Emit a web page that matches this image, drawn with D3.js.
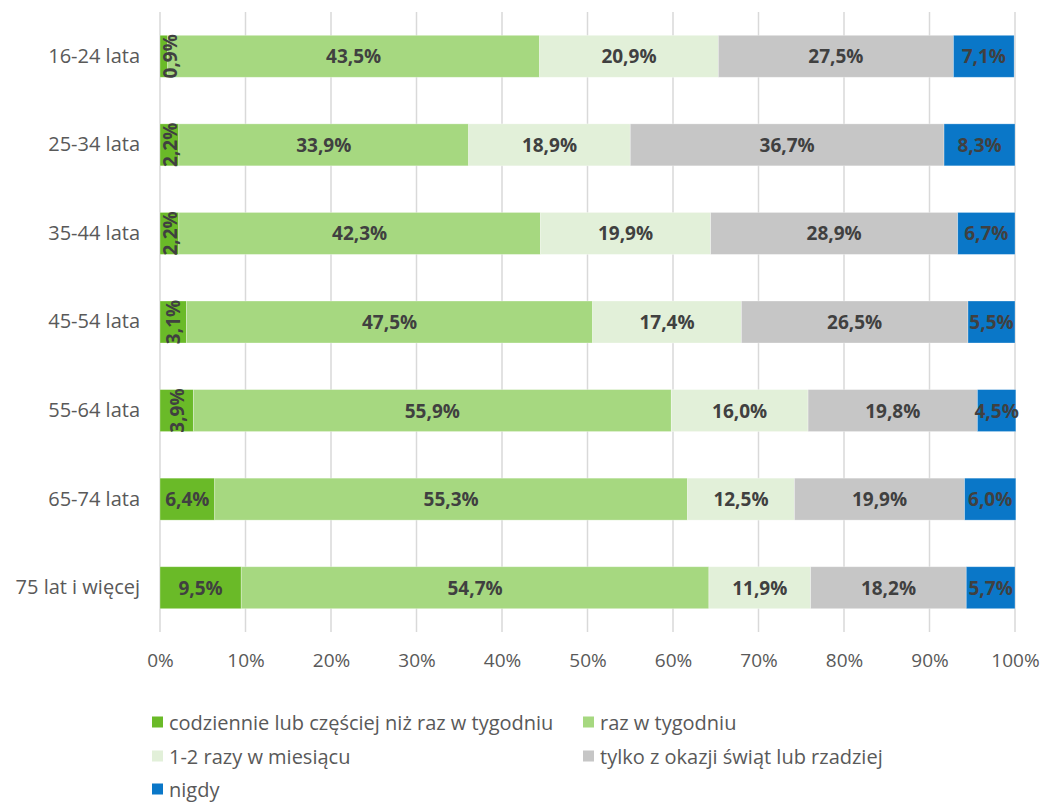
<!DOCTYPE html>
<html>
<head>
<meta charset="utf-8">
<script src="https://cdn.jsdelivr.net/npm/d3@7"></script>
<style>
  body { margin: 0; background: #fff; }
  svg { display: block; font-family: 'Open Sans', sans-serif; }
</style>
</head>
<body>
<div id="chart"></div>
<script>
const categories = [
  '16-24 lata',
  '25-34 lata',
  '35-44 lata',
  '45-54 lata',
  '55-64 lata',
  '65-74 lata',
  '75 lat i więcej'
]

const seriesNames = [
  'codziennie lub częściej niż raz w tygodniu',
  'raz w tygodniu',
  '1-2 razy w miesiącu',
  'tylko z okazji świąt lub rzadziej',
  'nigdy'
]

const codziennie = [0.9, 2.2, 2.2, 3.1, 3.9, 6.4, 9.5]
const razWTygodniu = [43.5, 33.9, 42.3, 47.5, 55.9, 55.3, 54.7]
const razyWMiesiacu = [20.9, 18.9, 19.9, 17.4, 16.0, 12.5, 11.9]
const tylkoSwieta = [27.5, 36.7, 28.9, 26.5, 19.8, 19.9, 18.2]
const nigdy = [7.1, 8.3, 6.7, 5.5, 4.5, 6.0, 5.7]

const ticks = [0, 10, 20, 30, 40, 50, 60, 70, 80, 90, 100]

const colors = ['#6aba28', '#a6d880', '#e2f0d9', '#c6c6c6', '#0a77c8']

const width = 1042
const height = 803

const svg = d3
  .select('#chart')
  .append('svg')
  .attr('width', width)
  .attr('height', height)

const x = d3.scaleLinear().domain([0, 100]).range([160, 1015])
const y = d3
  .scaleBand()
  .domain(categories)
  .range([12, 632])
  .paddingInner(0.526)
  .paddingOuter(0.263)

// gridlines
svg
  .selectAll('.grid')
  .data(ticks)
  .enter()
  .append('line')
  .attr('x1', d => x(d))
  .attr('x2', d => x(d))
  .attr('y1', 12)
  .attr('y2', 632)
  .attr('stroke', '#d9d9d9')
  .attr('stroke-width', 1.5)

// x axis labels
const xAxis = svg
  .append('g')
  .attr('transform', 'translate(0,667)')
  .call(d3.axisBottom(x).tickValues(ticks).tickFormat(d => d + '%').tickSize(0))
xAxis.select('.domain').remove()
xAxis
  .selectAll('text')
  .attr('dy', 0)
  .attr('y', 0)
  .attr('fill', '#595959')
  .style('font-size', '19px')
  .style('font-family', "'Open Sans', sans-serif")

// y axis labels
const yAxis = svg
  .append('g')
  .attr('transform', 'translate(140,0)')
  .call(d3.axisLeft(y).tickSize(0).tickPadding(0))
yAxis.select('.domain').remove()
yAxis
  .selectAll('text')
  .attr('fill', '#595959')
  .style('font-size', '20px')
  .style('font-family', "'Open Sans', sans-serif")

// stacked data
const table = categories.map((c, i) => ({
  cat: c,
  s0: codziennie[i],
  s1: razWTygodniu[i],
  s2: razyWMiesiacu[i],
  s3: tylkoSwieta[i],
  s4: nigdy[i]
}))
const stacked = d3.stack().keys(['s0', 's1', 's2', 's3', 's4'])(table)

const layers = svg
  .selectAll('.layer')
  .data(stacked)
  .enter()
  .append('g')
  .attr('class', 'layer')

layers
  .selectAll('rect')
  .data(d => d)
  .enter()
  .append('rect')
  .attr('x', d => x(d[0]))
  .attr('width', d => x(d[1]) - x(d[0]))
  .attr('y', d => y(d.data.cat))
  .attr('height', y.bandwidth())
  .attr('fill', function() {
    return colors[d3.select(this.parentNode).datum().index]
  })
  .attr('stroke', '#fff')
  .attr('stroke-opacity', 0.4)
  .attr('stroke-width', 0.75)

// labels go on top of every bar
const labels = svg.append('g').attr('class', 'labels')
stacked.forEach(layer => {
  layer.forEach(d => {
    const val = d[1] - d[0]
    const txt = d3.format('.1f')(val).replace('.', ',') + '%'
    const cx = (x(d[0]) + x(d[1])) / 2
    const cy = y(d.data.cat) + y.bandwidth() / 2
    const rotate = layer.index === 0 && val < 5
    const t = labels
      .append('text')
      .text(txt)
      .attr('text-anchor', 'middle')
      .attr('dominant-baseline', 'central')
      .attr('fill', '#404040')
      .style('font-weight', 'bold')
      .style('font-size', '19px')
    if (rotate) {
      t.attr('transform', `translate(${Math.max(cx, 170)},${cy}) rotate(-90)`)
    } else {
      t.attr('x', cx).attr('y', cy)
    }
  })
})

// legend
const legendPos = [
  [152, 722],
  [583, 722],
  [152, 756],
  [583, 756],
  [152, 789]
]

const legend = svg
  .selectAll('.legend')
  .data(seriesNames)
  .enter()
  .append('g')
  .attr('class', 'legend')
  .attr('transform', (d, i) => `translate(${legendPos[i][0]},${legendPos[i][1]})`)

legend
  .append('rect')
  .attr('x', 0)
  .attr('y', -5.5)
  .attr('width', 11)
  .attr('height', 11)
  .attr('fill', (d, i) => colors[i])

legend
  .append('text')
  .text(d => d)
  .attr('x', 17)
  .attr('dominant-baseline', 'central')
  .attr('fill', '#595959')
  .style('font-size', '20px')
</script>
</body>
</html>
